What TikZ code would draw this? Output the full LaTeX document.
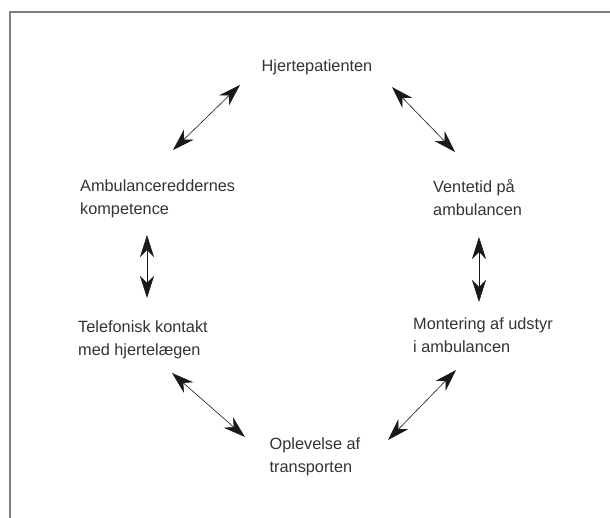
\documentclass[tikz,border=0pt]{standalone}
\usepackage{xcolor}
\usepackage{fontspec}
\setmainfont{Liberation Sans}
\usepackage{tikz}
\usetikzlibrary{arrows.meta}
\usetikzlibrary{calc}
\definecolor{framegray}{gray}{0.5}
\definecolor{textgray}{gray}{0.2}
\tikzset{boxtext/.style={inner sep=0pt, align=left, text=textgray, font=\fontsize{16.3}{23}\selectfont}}
\tikzset{link/.style={<->, >={Stealth[length=22pt,width=14pt,inset=7pt]}, line width=0.6pt, black!90}}

\begin{document}
\begin{tikzpicture} [x=1pt, y=-1pt]
\useasboundingbox (0,0) rectangle (610,518);
\draw[framegray, line width=1.5pt] (10,518) -- (10,12) -- (610,12);
% the six themes
\node[boxtext] (patient) at (317,67.5) {Hjertepatienten};
\node[boxtext, anchor=west] (kompetence) at (80,199) {Ambulancereddernes\\kompetence};
\node[boxtext, anchor=west] (ventetid) at (433,198) {Ventetid på\\ambulancen};
\node[boxtext, anchor=west] (telefon) at (78,340) {Telefonisk kontakt\\med hjertelægen};
\node[boxtext, anchor=west] (udstyr) at (413,335) {Montering af udstyr\\i ambulancen};
\node[boxtext] (transport) at (315,457) {Oplevelse af\\transporten};
% arrow ends
\coordinate (k1) at (173,150);  \coordinate (p1) at (240,85);
\coordinate (p2) at (392,87);   \coordinate (v1) at (455,152);
\coordinate (k2) at (147,235);  \coordinate (t1) at (147,298);
\coordinate (v2) at (479,237);  \coordinate (u1) at (479,302);
\coordinate (t2) at (172,373);  \coordinate (o1) at (245,437);
\coordinate (u2) at (456,370);  \coordinate (o2) at (388,440);
\foreach \a/\b in {k1/p1, p2/v1, k2/t1, v2/u1, t2/o1, u2/o2} {
 \draw[link] (\a) -- (\b);
}
\end{tikzpicture}
\end{document}
